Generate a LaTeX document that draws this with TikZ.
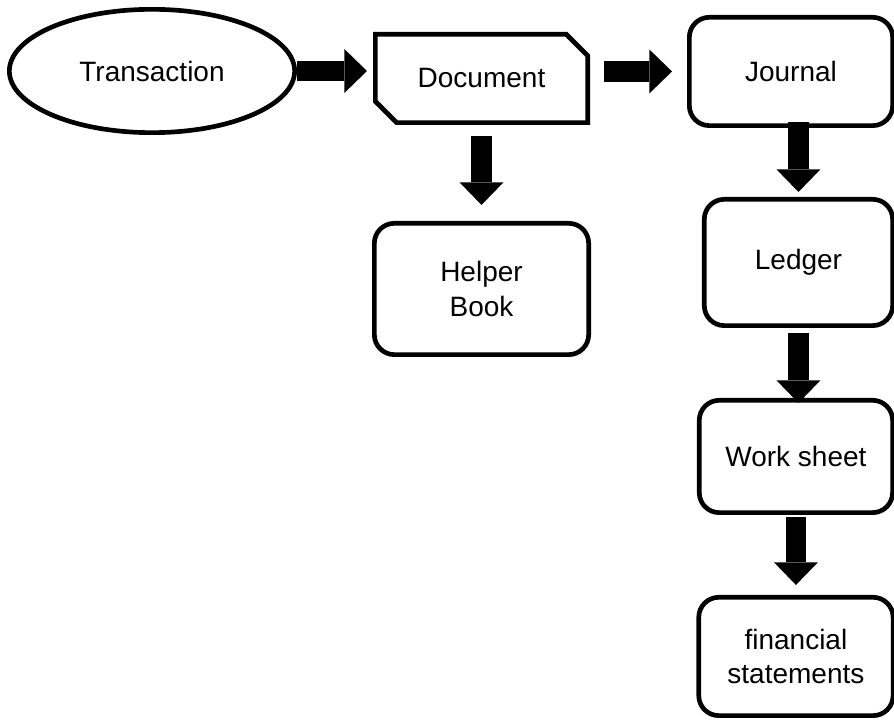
\documentclass[tikz,border=0pt]{standalone}
\usepackage{fontspec}
\setmainfont{Liberation Sans}
\usetikzlibrary{positioning,shapes.geometric,shapes.misc,arrows.meta}

\begin{document}
\begin{tikzpicture}[
    x=0.75pt, y=-0.75pt,
    every node/.style={font=\fontsize{21}{26}\selectfont},
    oval/.style={ellipse, draw, line width=3.5pt, minimum width=214pt, minimum height=92.5pt},
    docbox/.style={chamfered rectangle, chamfered rectangle corners={north east, south west}, chamfered rectangle xsep=8pt, chamfered rectangle ysep=8pt, draw, line width=3.5pt, minimum width=159.25pt, minimum height=66.25pt},
    stepbox/.style={rectangle, rounded corners=15pt, draw, line width=3.5pt, align=center},
    blockarrow/.style={-{Triangle[length=17pt, width=33pt, line width=0pt]}, line width=15.5pt}
]
\useasboundingbox (0,0) rectangle (894,720);

% Source event and its document
\node[oval] (trans) at (152,71) {Transaction};
\node[docbox, right=57pt of trans, yshift=-5.6pt] (doc) {Document};
\node[stepbox, minimum width=160.75pt, minimum height=98.5pt, below=72pt of doc] (helper) {Helper\\Book};

% Main chain of books
\node[stepbox, minimum width=152.5pt, minimum height=81.25pt, right=72.75pt of doc, yshift=5.25pt] (journal) {Journal};
\node[stepbox, minimum width=141.25pt, minimum height=94.75pt, below=51.75pt of journal, xshift=5.6pt] (ledger) {Ledger};
\node[stepbox, minimum width=145pt, minimum height=84.25pt, below=52.5pt of ledger, xshift=-1.9pt] (work) {Work sheet};
\node[stepbox, minimum width=145.75pt, minimum height=88.75pt, below=60pt of work] (fin) {financial\\statements};

% Block arrows
\draw[blockarrow, shorten >=4.5pt] (trans.east) -- (trans.east -| doc.west);
\draw[blockarrow, shorten <=10.5pt, shorten >=11.25pt] (doc.east |- journal.west) -- (journal.west);
\draw[blockarrow, shorten <=8.25pt, shorten >=12pt] (doc.south) -- (helper.north);
\draw[blockarrow, shorten <=-4.5pt, shorten >=3.75pt] (journal.south -| ledger.north) -- (ledger.north);
\draw[blockarrow, shorten <=3.75pt, shorten >=-3.75pt] (ledger.south) -- (ledger.south |- work.north);
\draw[blockarrow, shorten <=1.5pt, shorten >=7.5pt] (work.south) -- (work.south |- fin.north);

\end{tikzpicture}
\end{document}
